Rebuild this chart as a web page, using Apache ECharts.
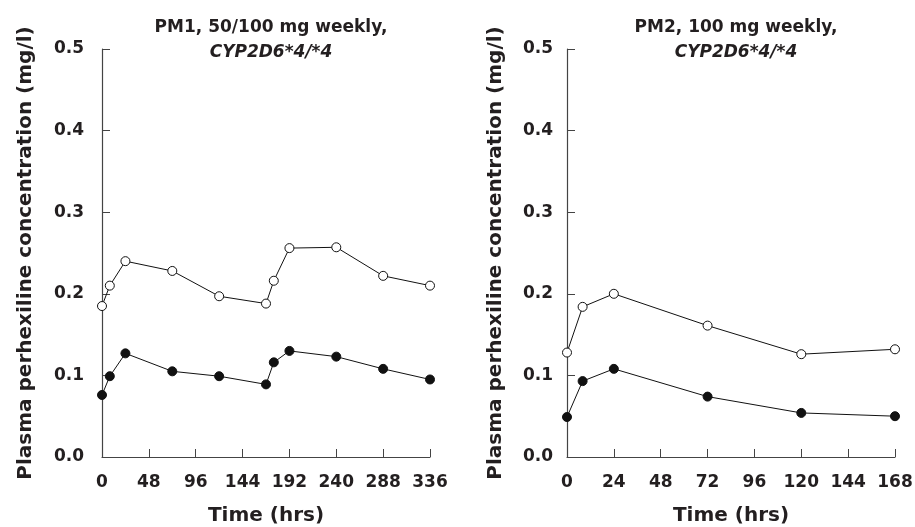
<!DOCTYPE html>
<html>
<head>
<meta charset="utf-8">
<script src="https://cdn.jsdelivr.net/npm/echarts@6/dist/echarts.min.js"></script>
<style>
  html, body { margin: 0; padding: 0; background: #fff; }
  #chart { width: 915px; height: 527px; }
</style>
</head>
<body>
<div id="chart"></div>
<script>
// PM1: two weeks of sampling (hrs)
var pm1Hours = [0, 8, 24, 72, 120, 168, 176, 192, 240, 288, 336];
var pm1Open = [0.185, 0.210, 0.240, 0.228, 0.197, 0.188, 0.216, 0.256, 0.257, 0.222, 0.210];
var pm1Filled = [0.076, 0.099, 0.127, 0.105, 0.099, 0.089, 0.116, 0.130, 0.123, 0.108, 0.095];

// PM2: one week
var pm2Hours = [0, 8, 24, 72, 120, 168];
var pm2Open = [0.128, 0.184, 0.200, 0.161, 0.126, 0.132];
var pm2Filled = [0.049, 0.093, 0.108, 0.074, 0.054, 0.050];

var pm1Ticks = [0, 48, 96, 144, 192, 240, 288, 336];
var pm2Ticks = [0, 24, 48, 72, 96, 120, 144, 168];

var FONT = 'DejaVu Sans';
var INK = '#231f20';

function pairs(xs, ys) {
  return xs.map(function (x, i) { return [x, ys[i]]; });
}

function xAxisFor(idx, ticks) {
  return {
    type: 'value', gridIndex: idx,
    min: ticks[0], max: ticks[ticks.length - 1],
    interval: ticks[1] - ticks[0],
    name: 'Time (hrs)', nameLocation: 'middle', nameGap: 49,
    nameTextStyle: { fontFamily: FONT, fontWeight: 'bold', fontSize: 20, color: INK },
    axisLine: { lineStyle: { color: '#444', width: 1.2 } },
    axisTick: { inside: true, length: 8, lineStyle: { color: '#444' } },
    axisLabel: { margin: 17, fontFamily: FONT, fontWeight: 'bold', fontSize: 17, color: INK },
    splitLine: { show: false }
  };
}

function yAxisFor(idx, gap, labelMargin) {
  return {
    type: 'value', gridIndex: idx,
    min: 0, max: 0.5, interval: 0.1,
    name: 'Plasma perhexiline concentration (mg/l)',
    nameLocation: 'middle', nameGap: gap,
    nameTextStyle: { fontFamily: FONT, fontWeight: 'bold', fontSize: 20, color: INK },
    axisLine: { show: true, lineStyle: { color: '#444', width: 1.2 } },
    axisTick: { show: true, inside: true, length: 8, lineStyle: { color: '#444' } },
    axisLabel: {
      margin: labelMargin, fontFamily: FONT, fontWeight: 'bold', fontSize: 17, color: INK,
      formatter: function (v) { return v.toFixed(1); }
    },
    splitLine: { show: false }
  };
}

function series(idx, data, filled) {
  return {
    type: 'line', xAxisIndex: idx, yAxisIndex: idx,
    data: data,
    symbol: 'circle', symbolSize: 9,
    showAllSymbol: true,
    lineStyle: { color: '#111', width: 1 },
    itemStyle: { color: filled ? '#111' : '#fff', borderColor: '#111', borderWidth: 1 },
    emphasis: { disabled: true },
    animation: false
  };
}

function titleFor(text1, centerX) {
  return {
    text: '{a|' + text1 + '}\n{b|CYP2D6*4/*4}',
    left: centerX, top: 10, textAlign: 'center',
    textStyle: {
      rich: {
        a: { fontFamily: FONT, fontWeight: 'bold', fontSize: 17, color: INK, lineHeight: 25 },
        b: { fontFamily: FONT, fontWeight: 'bold', fontStyle: 'italic', fontSize: 17, color: INK, lineHeight: 25 }
      }
    }
  };
}

var chart = echarts.init(document.getElementById('chart'));
chart.setOption({
  backgroundColor: '#fff',
  animation: false,
  title: [
    titleFor('PM1, 50/100 mg weekly,', 266),
    titleFor('PM2, 100 mg weekly,', 731)
  ],
  grid: [
    { left: 102, top: 49, width: 328, height: 408, outerBoundsMode: 'none' },
    { left: 567, top: 49, width: 328, height: 408, outerBoundsMode: 'none' }
  ],
  xAxis: [xAxisFor(0, pm1Ticks), xAxisFor(1, pm2Ticks)],
  yAxis: [yAxisFor(0, 66, 18), yAxisFor(1, 61, 14)],
  series: [
    series(0, pairs(pm1Hours, pm1Open), false),
    series(0, pairs(pm1Hours, pm1Filled), true),
    series(1, pairs(pm2Hours, pm2Open), false),
    series(1, pairs(pm2Hours, pm2Filled), true)
  ]
});
</script>
</body>
</html>
